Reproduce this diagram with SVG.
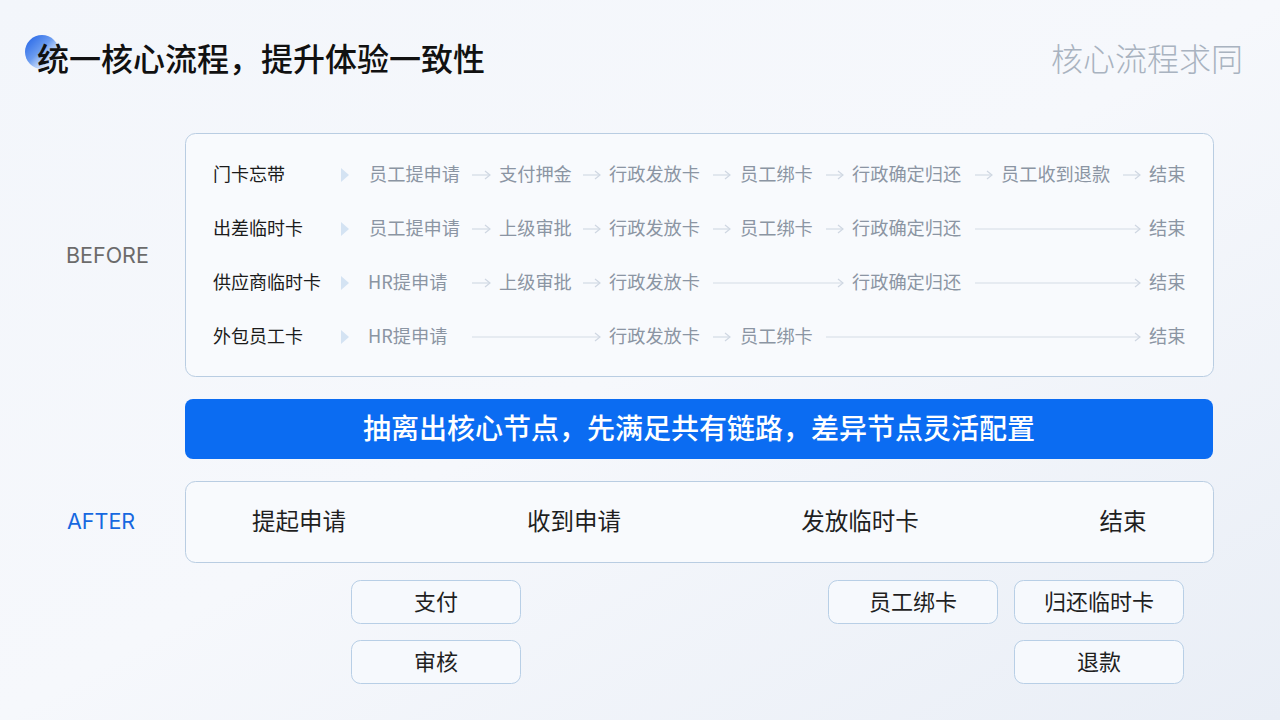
<svg xmlns="http://www.w3.org/2000/svg" width="1280" height="720" viewBox="0 0 1280 720">
<defs>
<linearGradient id="bg" x1="0" y1="0" x2="1" y2="1">
<stop offset="0" stop-color="#f3f6fb"/>
<stop offset="0.5" stop-color="#f6f8fc"/>
<stop offset="1" stop-color="#e9eef6"/>
</linearGradient>
<linearGradient id="dot" x1="0" y1="0" x2="1" y2="1">
<stop offset="0" stop-color="#1d5fe6"/>
<stop offset="0.45" stop-color="#6b9cf0"/>
<stop offset="1" stop-color="#ffffff" stop-opacity="0.2"/>
</linearGradient>
<marker id="ah" viewBox="0 0 10 10" refX="9" refY="5" markerWidth="10" markerHeight="10" markerUnits="userSpaceOnUse" orient="auto">
<path d="M4,1 L9,5 L4,9" fill="none" stroke="#cfd7e2" stroke-width="1.2"/>
</marker>
<style>
.cjk{font-family:"Noto Sans CJK SC","Noto Sans",sans-serif}
.lbl{font-size:18px;fill:#1b1b1b}
.step{font-size:18.2px;fill:#8b95a3}
.ln{stroke:#d3dbe5;stroke-width:1.2;fill:none;marker-end:url(#ah)}
.box{fill:#f8fafd;stroke:#b9cde2;stroke-width:1}
.sub{fill:#f6f9fd;stroke:#b8cfe6;stroke-width:1}
.subt{font-size:22px;fill:#1f1f1f;text-anchor:middle}
.aft{font-size:23.5px;fill:#1f1f1f;text-anchor:middle}
.chev{fill:#d4e3f3}
</style>
</defs>
<rect width="1280" height="720" fill="url(#bg)"/>

<g id="title">
<circle cx="42" cy="52" r="17" fill="url(#dot)"/>
<text x="37" y="71" class="cjk" font-size="32" font-weight="500" fill="#111">统一核心流程，提升体验一致性</text>
</g>
<text id="subtitle" x="1243" y="71" class="cjk" font-size="32" fill="#a9b3c0" text-anchor="end" font-weight="300">核心流程求同</text>

<text id="before-label" x="66" y="263" font-family="Inter, 'Liberation Sans', sans-serif" font-size="21.5" fill="#6b6b6b">BEFORE</text>
<text id="after-label" x="67" y="529" font-family="Inter, 'Liberation Sans', sans-serif" font-size="21.5" fill="#1668e0">AFTER</text>

<g id="before-box">
<rect x="185.5" y="133.5" width="1028" height="243" rx="10" class="box"/>
</g>

<g id="row-labels" class="cjk lbl">
<text x="213" y="181">门卡忘带</text>
<text x="213" y="235">出差临时卡</text>
<text x="213" y="289">供应商临时卡</text>
<text x="213" y="343">外包员工卡</text>
</g>
<g id="chevrons">
<path class="chev" d="M341,168 L349,175 L341,182 Z"/>
<path class="chev" d="M341,222 L349,229 L341,236 Z"/>
<path class="chev" d="M341,276 L349,283 L341,290 Z"/>
<path class="chev" d="M341,330 L349,337 L341,344 Z"/>
</g>

<g id="row1" class="cjk step">
<text x="369" y="181">员工提申请</text>
<text x="499" y="181">支付押金</text>
<text x="609" y="181">行政发放卡</text>
<text x="740" y="181">员工绑卡</text>
<text x="852" y="181">行政确定归还</text>
<text x="1001" y="181">员工收到退款</text>
<text x="1149" y="181">结束</text>
</g>
<g id="row2" class="cjk step">
<text x="369" y="235">员工提申请</text>
<text x="499" y="235">上级审批</text>
<text x="609" y="235">行政发放卡</text>
<text x="740" y="235">员工绑卡</text>
<text x="852" y="235">行政确定归还</text>
<text x="1149" y="235">结束</text>
</g>
<g id="row3" class="cjk step">
<text x="368" y="289">HR提申请</text>
<text x="499" y="289">上级审批</text>
<text x="609" y="289">行政发放卡</text>
<text x="852" y="289">行政确定归还</text>
<text x="1149" y="289">结束</text>
</g>
<g id="row4" class="cjk step">
<text x="368" y="343">HR提申请</text>
<text x="609" y="343">行政发放卡</text>
<text x="740" y="343">员工绑卡</text>
<text x="1149" y="343">结束</text>
</g>

<g id="connectors">
<line class="ln" x1="472" y1="175" x2="490" y2="175"/>
<line class="ln" x1="583" y1="175" x2="600" y2="175"/>
<line class="ln" x1="713" y1="175" x2="730" y2="175"/>
<line class="ln" x1="826" y1="175" x2="843" y2="175"/>
<line class="ln" x1="975" y1="175" x2="992" y2="175"/>
<line class="ln" x1="1123" y1="175" x2="1140" y2="175"/>
<line class="ln" x1="472" y1="229" x2="490" y2="229"/>
<line class="ln" x1="583" y1="229" x2="600" y2="229"/>
<line class="ln" x1="713" y1="229" x2="730" y2="229"/>
<line class="ln" x1="826" y1="229" x2="843" y2="229"/>
<line class="ln" x1="975" y1="229" x2="1140" y2="229"/>
<line class="ln" x1="472" y1="283" x2="490" y2="283"/>
<line class="ln" x1="583" y1="283" x2="600" y2="283"/>
<line class="ln" x1="713" y1="283" x2="843" y2="283"/>
<line class="ln" x1="975" y1="283" x2="1140" y2="283"/>
<line class="ln" x1="472" y1="337" x2="600" y2="337"/>
<line class="ln" x1="713" y1="337" x2="730" y2="337"/>
<line class="ln" x1="826" y1="337" x2="1140" y2="337"/>
<line class="ln" x1="415" y1="522" x2="458" y2="522"/>
<line class="ln" x1="690" y1="522" x2="733" y2="522"/>
<line class="ln" x1="990" y1="522" x2="1032" y2="522"/>
</g>

<g id="banner">
<rect x="185" y="399" width="1028" height="60" rx="8" fill="#0b6cf2"/>
<text x="699" y="439" class="cjk" font-size="28" fill="#ffffff" text-anchor="middle" font-weight="500">抽离出核心节点，先满足共有链路，差异节点灵活配置</text>
</g>

<g id="after-box">
<rect x="185.5" y="481.5" width="1028" height="81" rx="10" class="box"/>
</g>
<g id="after-steps" class="cjk aft">
<text x="299" y="530">提起申请</text>
<text x="574" y="530">收到申请</text>
<text x="860" y="530">发放临时卡</text>
<text x="1123" y="530">结束</text>
</g>

<g id="node-pay"><rect x="351.5" y="580.5" width="169" height="43" rx="9" class="sub"/><text x="436" y="610" class="cjk subt">支付</text></g>
<g id="node-review"><rect x="351.5" y="640.5" width="169" height="43" rx="9" class="sub"/><text x="436" y="670" class="cjk subt">审核</text></g>
<g id="node-bind"><rect x="828.5" y="580.5" width="169" height="43" rx="9" class="sub"/><text x="913" y="610" class="cjk subt">员工绑卡</text></g>
<g id="node-return"><rect x="1014.5" y="580.5" width="169" height="43" rx="9" class="sub"/><text x="1099" y="610" class="cjk subt">归还临时卡</text></g>
<g id="node-refund"><rect x="1014.5" y="640.5" width="169" height="43" rx="9" class="sub"/><text x="1099" y="670" class="cjk subt">退款</text></g>
</svg>
